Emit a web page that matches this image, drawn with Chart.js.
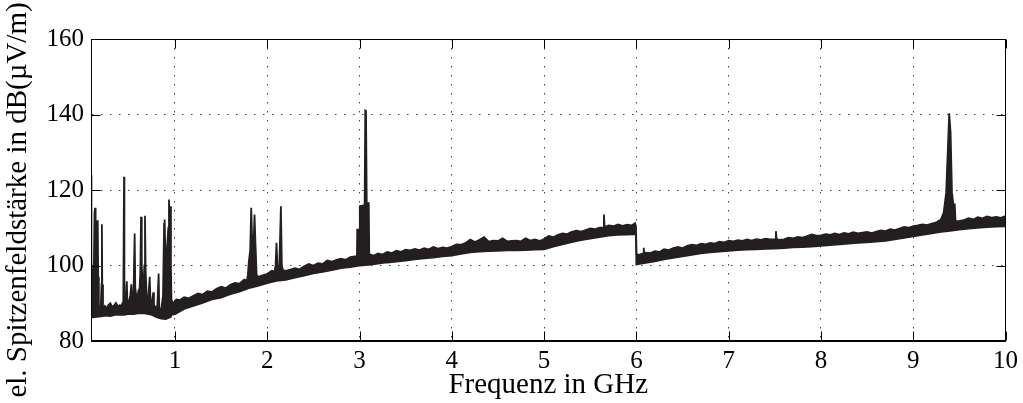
<!DOCTYPE html>
<html>
<head>
<meta charset="utf-8">
<script src="https://cdn.jsdelivr.net/npm/chart.js@4/dist/chart.umd.min.js"></script>
<style>
  html, body { margin: 0; padding: 0; background: #fff; }
  #wrap { width: 1023px; height: 403px; }
</style>
</head>
<body>
<div id="wrap"><canvas id="spectrum"></canvas></div>
<script>
// tick labels
const freqTicks = [1, 2, 3, 4, 5, 6, 7, 8, 9, 10];
const levelTicks = [80, 100, 120, 140, 160];
const yTitle = "el. Spitzenfeldstärke in dB(µV/m)";

// upper edge of the measured trace (GHz, dB(µV/m)), spikes included
const upperFreq = [
  0.090, 0.093, 0.096, 0.105, 0.112, 0.120, 0.128, 0.135, 0.140, 0.150,
  0.157, 0.163, 0.168, 0.175, 0.185, 0.195, 0.204, 0.208, 0.212, 0.220,
  0.240, 0.260, 0.280, 0.300, 0.320, 0.340, 0.360, 0.380, 0.400, 0.420,
  0.440, 0.448, 0.452, 0.465, 0.478, 0.485, 0.500, 0.515, 0.527, 0.535,
  0.550, 0.563, 0.570, 0.585, 0.600, 0.612, 0.625, 0.632, 0.640, 0.655,
  0.668, 0.675, 0.682, 0.695, 0.710, 0.726, 0.735, 0.750, 0.765, 0.772,
  0.790, 0.808, 0.823, 0.830, 0.850, 0.870, 0.882, 0.888, 0.895, 0.905,
  0.915, 0.928, 0.935, 0.942, 0.950, 0.956, 0.962, 0.975, 0.990, 1.015,
  1.05, 1.10, 1.15, 1.20, 1.25, 1.30, 1.35, 1.40, 1.45, 1.50,
  1.55, 1.60, 1.65, 1.70, 1.75, 1.78, 1.79, 1.80, 1.815, 1.826,
  1.835, 1.85, 1.862, 1.872, 1.885, 1.90, 1.95, 2.00, 2.05, 2.08,
  2.09, 2.10, 2.11, 2.13, 2.148, 2.158, 2.17, 2.20, 2.25, 2.30,
  2.35, 2.40, 2.45, 2.50, 2.55, 2.60, 2.65, 2.70, 2.75, 2.80,
  2.85, 2.90, 2.95, 2.972, 2.975, 3.000, 3.003, 3.055, 3.062, 3.070,
  3.078, 3.100, 3.105, 3.15, 3.20, 3.25, 3.30, 3.35, 3.40, 3.45,
  3.50, 3.55, 3.60, 3.65, 3.70, 3.75, 3.80, 3.85, 3.90, 3.95,
  4.00, 4.05, 4.10, 4.15, 4.20, 4.25, 4.30, 4.35, 4.40, 4.45,
  4.50, 4.55, 4.60, 4.65, 4.70, 4.75, 4.80, 4.85, 4.90, 4.95,
  5.00, 5.05, 5.10, 5.15, 5.20, 5.25, 5.30, 5.35, 5.40, 5.45,
  5.50, 5.55, 5.60, 5.640, 5.648, 5.656, 5.70, 5.75, 5.80, 5.85,
  5.90, 5.95, 5.985, 5.995, 6.002, 6.03, 6.05, 6.075, 6.080, 6.085,
  6.10, 6.15, 6.20, 6.25, 6.30, 6.35, 6.40, 6.45, 6.50, 6.55,
  6.60, 6.65, 6.70, 6.75, 6.80, 6.85, 6.90, 6.95, 7.00, 7.05,
  7.10, 7.15, 7.20, 7.25, 7.30, 7.35, 7.40, 7.45, 7.505, 7.512,
  7.52, 7.55, 7.60, 7.65, 7.70, 7.75, 7.80, 7.85, 7.90, 7.95,
  8.00, 8.05, 8.10, 8.15, 8.20, 8.25, 8.30, 8.35, 8.40, 8.45,
  8.50, 8.55, 8.60, 8.65, 8.70, 8.75, 8.80, 8.85, 8.90, 8.95,
  9.00, 9.05, 9.10, 9.15, 9.20, 9.25, 9.30, 9.33, 9.357, 9.375,
  9.390, 9.405, 9.420, 9.435, 9.450, 9.459, 9.50, 9.55, 9.60, 9.65,
  9.70, 9.75, 9.80, 9.85, 9.90, 9.95, 10.00
];
const upperLevel = [
  98.0, 124.0, 99.0, 97.0, 98.5, 97.0, 114.0, 115.3, 99.0, 97.5,
  111.7, 112.0, 97.0, 89.5, 88.4, 88.6, 95.0, 110.9, 95.0, 88.6,
  89.3, 88.7, 89.6, 90.0, 89.0, 89.4, 90.1, 89.2, 89.5, 89.4,
  90.5, 123.5, 91.0, 89.6, 95.8, 90.0, 90.3, 92.0, 95.0, 91.0,
  92.0, 108.5, 94.0, 91.0, 92.8, 91.0, 99.0, 112.9, 100.0, 92.0,
  100.0, 113.2, 99.0, 90.5, 91.0, 97.0, 90.0, 90.2, 92.9, 89.5,
  89.0, 89.0, 97.9, 88.5, 88.2, 92.0, 111.0, 112.2, 104.0, 100.0,
  105.0, 110.0, 117.5, 108.0, 115.7, 100.0, 91.0, 90.0, 90.3, 91.0,
  90.8, 91.6, 91.3, 92.0, 92.6, 92.3, 93.2, 93.0, 93.8, 94.4,
  94.0, 94.9, 95.4, 95.2, 96.3, 96.0, 97.5, 101.0, 104.0, 115.3,
  108.0, 104.0, 113.5, 106.0, 97.5, 97.0, 97.4, 97.8, 98.6, 98.4,
  100.0, 106.0, 100.0, 99.5, 115.7, 100.0, 98.8, 98.6, 98.9, 99.3,
  99.0, 99.8, 100.4, 100.0, 100.6, 100.4, 101.3, 101.0, 101.5, 101.8,
  101.5, 102.2, 102.4, 102.5, 109.5, 109.5, 115.7, 116.0, 141.1, 141.0,
  116.5, 116.5, 103.0, 102.6, 103.2, 102.9, 103.6, 103.3, 103.9, 103.6,
  104.2, 104.0, 104.4, 104.1, 104.6, 104.3, 104.9, 104.5, 104.8, 104.6,
  105.0, 105.6, 105.5, 106.0, 106.9, 106.2, 106.8, 107.5, 106.3, 106.6,
  106.5, 107.2, 106.4, 106.5, 106.6, 106.4, 107.2, 106.6, 106.9, 106.5,
  107.0, 107.8, 107.5, 108.1, 108.5, 108.3, 108.9, 109.2, 109.0, 109.4,
  109.8, 109.6, 110.0, 110.0, 113.5, 110.2, 110.6, 110.4, 110.9, 110.5,
  110.8, 110.6, 111.2, 110.5, 103.0, 102.8, 103.0, 103.2, 104.7, 103.2,
  103.4, 103.3, 103.8, 103.6, 104.3, 104.1, 104.6, 104.9, 104.6, 105.2,
  105.5, 105.3, 105.8, 105.6, 106.0, 105.8, 106.3, 106.1, 106.6, 106.4,
  106.7, 106.5, 106.9, 106.6, 107.0, 106.8, 107.1, 106.9, 107.0, 109.1,
  107.0, 106.8, 106.9, 107.4, 107.2, 107.6, 107.4, 107.8, 108.2, 107.9,
  108.0, 108.3, 108.1, 108.5, 108.2, 108.6, 108.4, 108.8, 108.5, 108.7,
  108.9, 108.6, 109.0, 109.3, 109.1, 109.6, 109.4, 109.8, 110.2, 110.0,
  110.4, 110.6, 110.9, 110.7, 111.1, 111.4, 112.2, 114.0, 119.3, 130.7,
  140.3, 135.2, 119.3, 116.2, 116.2, 111.7, 111.8, 112.0, 112.5, 112.2,
  112.8, 112.5, 113.0, 112.7, 112.9, 112.6, 113.1
];

// lower edge of the measured trace
const lowerFreq = [
  0.09, 0.15, 0.20, 0.25, 0.30, 0.35, 0.40, 0.45, 0.50, 0.55,
  0.60, 0.65, 0.70, 0.75, 0.80, 0.85, 0.90, 0.93, 0.955, 0.962,
  1.0, 1.1, 1.2, 1.3, 1.4, 1.5, 1.6, 1.7, 1.8, 1.9,
  2.0, 2.1, 2.2, 2.3, 2.4, 2.5, 2.6, 2.7, 2.8, 2.9,
  3.0, 3.1, 3.2, 3.3, 3.4, 3.5, 3.6, 3.7, 3.8, 3.9,
  4.0, 4.1, 4.2, 4.3, 4.4, 4.5, 4.6, 4.7, 4.8, 4.9,
  5.0, 5.1, 5.2, 5.3, 5.4, 5.5, 5.6, 5.7, 5.8, 5.9,
  5.995, 6.0, 6.1, 6.2, 6.3, 6.4, 6.5, 6.6, 6.7, 6.8,
  6.9, 7.0, 7.1, 7.2, 7.3, 7.4, 7.5, 7.6, 7.7, 7.8,
  7.9, 8.0, 8.1, 8.2, 8.3, 8.4, 8.5, 8.6, 8.7, 8.8,
  8.9, 9.0, 9.1, 9.2, 9.3, 9.4, 9.5, 9.6, 9.7, 9.8,
  9.9, 10.0
];
const lowerLevel = [
  86.2, 86.4, 86.5, 86.7, 86.6, 86.9, 87.0, 86.9, 87.2, 87.1,
  87.3, 87.4, 87.2, 86.9, 86.3, 85.9, 85.8, 86.1, 86.4, 86.9,
  87.1, 88.5, 89.3, 90.1, 91.0, 91.5, 92.4, 93.1, 94.0, 94.6,
  95.3, 95.9, 96.2, 96.8, 97.3, 97.9, 98.3, 98.8, 99.3, 99.6,
  100.0, 100.2, 100.5, 100.8, 101.0, 101.3, 101.6, 101.9, 102.1, 102.4,
  102.6, 103.1, 103.5, 103.7, 103.8, 103.9, 104.0, 104.0, 104.1, 104.2,
  104.3, 105.0, 105.6, 106.2, 106.7, 107.1, 107.5, 107.9, 108.1, 108.2,
  108.3, 100.3, 100.7, 101.1, 101.6, 102.0, 102.4, 102.8, 103.2, 103.5,
  103.7, 103.9, 104.1, 104.2, 104.3, 104.4, 104.5, 104.6, 104.8, 104.9,
  105.0, 105.2, 105.4, 105.6, 105.8, 106.0, 106.1, 106.3, 106.5, 106.9,
  107.3, 107.7, 108.1, 108.5, 108.9, 109.2, 109.5, 109.8, 110.0, 110.2,
  110.3, 110.4
];

const traceColor = "#231f20";
const serif = "'Liberation Serif', 'Times New Roman', serif";

const toPoints = (xs, ys) => xs.map((x, i) => ({ x: x, y: ys[i] }));

// box round the plot, inward tick marks on all four sides, y title
const frame = {
  id: "frame",
  afterDraw(chart) {
    const { ctx, chartArea: a, scales } = chart;
    const l = Math.round(a.left) + 0.5;
    const r = Math.round(a.right) - 0.5;
    const t = Math.round(a.top) + 0.5;
    const b = Math.round(a.bottom) - 0.5;
    const len = 9;
    ctx.save();
    ctx.strokeStyle = "#000";
    ctx.lineWidth = 1;
    ctx.strokeRect(l, t, r - l, b - t);
    ctx.beginPath();
    scales.x.ticks.forEach((tk) => {
      const px = Math.round(scales.x.getPixelForValue(tk.value)) + 0.5;
      ctx.moveTo(px, b); ctx.lineTo(px, b - len);
      ctx.moveTo(px, t); ctx.lineTo(px, t + len);
    });
    scales.y.ticks.forEach((tk) => {
      const py = Math.round(scales.y.getPixelForValue(tk.value)) + 0.5;
      ctx.moveTo(l, py); ctx.lineTo(l + len, py);
      ctx.moveTo(r, py); ctx.lineTo(r - len, py);
    });
    ctx.stroke();

    // the y title sits a little below the plot centre in the original
    ctx.translate(18, 200);
    ctx.rotate(-Math.PI / 2);
    ctx.fillStyle = "#000";
    ctx.font = "29px " + serif;
    ctx.textAlign = "center";
    ctx.textBaseline = "middle";
    ctx.fillText(yTitle, 0, 0);
    ctx.restore();
  },
};

new Chart(document.getElementById("spectrum"), {
  type: "line",
  data: {
    datasets: [
      {
        label: "lower",
        data: toPoints(lowerFreq, lowerLevel),
        borderColor: traceColor,
        borderWidth: 1.8,
        pointRadius: 0,
        fill: false,
      },
      {
        label: "upper",
        data: toPoints(upperFreq, upperLevel),
        borderColor: traceColor,
        backgroundColor: traceColor,
        borderWidth: 1.8,
        pointRadius: 0,
        fill: "-1",
      },
    ],
  },
  options: {
    responsive: true,
    maintainAspectRatio: false,
    animation: false,
    layout: { padding: { top: 39, right: 16, left: 0, bottom: 0 } },
    plugins: {
      legend: { display: false },
      tooltip: { enabled: false },
    },
    scales: {
      x: {
        type: "linear",
        min: 0.09,
        max: 10,
        afterBuildTicks: (s) => { s.ticks = freqTicks.map((v) => ({ value: v })); },
        afterFit: (s) => { s.height = 62; },
        ticks: {
          color: "#000",
          padding: 5,
          maxRotation: 0,
          font: { family: serif, size: 25 },
        },
        grid: { color: "#444", lineWidth: 1, drawTicks: false },
        border: { display: true, color: "#000", dash: [1.5, 7.5] },
        title: {
          display: true,
          text: "Frequenz in GHz",
          color: "#000",
          padding: { top: 0, bottom: 0 },
          font: { family: serif, size: 29 },
        },
      },
      y: {
        type: "linear",
        min: 80,
        max: 160,
        afterBuildTicks: (s) => { s.ticks = levelTicks.map((v) => ({ value: v })); },
        afterFit: (s) => { s.width = 91; },
        ticks: {
          color: "#000",
          padding: 7,
          font: { family: serif, size: 25 },
        },
        grid: { color: "#444", lineWidth: 1, drawTicks: false },
        border: { display: true, color: "#000", dash: [1.5, 7.5] },
      },
    },
  },
  plugins: [frame],
});
</script>
</body>
</html>
